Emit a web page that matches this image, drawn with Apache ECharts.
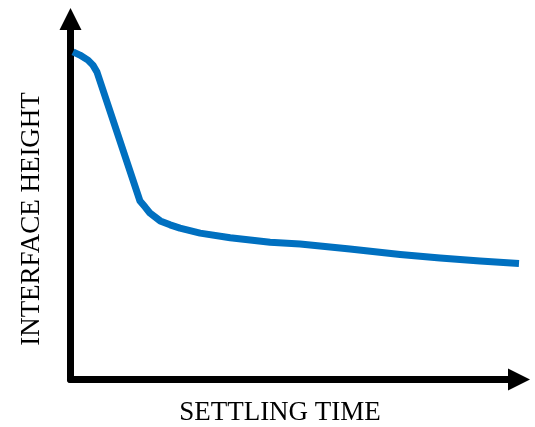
<!DOCTYPE html>
<html>
<head>
<meta charset="utf-8">
<script src="https://cdn.jsdelivr.net/npm/echarts@6/dist/echarts.min.js"></script>
<style>html,body{margin:0;padding:0;background:#fff;}#c{width:535px;height:427px;}</style>
</head>
<body>
<div id="c"></div>
<script>
// Settling time (x, relative units) and interface height (y, relative units)
var settlingTime = [0.56, 2.1, 3.9, 5.0, 5.9, 15.5, 16.6, 17.7, 20.0, 22.2, 24.4, 28.9, 35.6, 44.5, 51.2, 62.3, 73.5, 82.4, 91.3, 100];
var interfaceHeight = [90.9, 90.0, 88.6, 87.2, 85.3, 49.5, 47.9, 46.2, 44.0, 42.9, 42.0, 40.6, 39.3, 38.1, 37.6, 36.2, 34.7, 33.7, 32.9, 32.2];
var xTitle = 'SETTLING TIME';
var yTitle = 'INTERFACE HEIGHT';

var data = settlingTime.map(function (x, i) { return [x, interfaceHeight[i]]; });
var tri = 'path://M5,0 L10,10 L0,10 Z';
var serif = '"Liberation Serif", "DejaVu Serif", serif';

var chart = echarts.init(document.getElementById('c'));
chart.setOption({
  animation: false,
  backgroundColor: '#ffffff',
  grid: { left: 70.5, right: 16, top: 19, bottom: 47.5, containLabel: false },
  xAxis: {
    type: 'value', min: 0, max: 100,
    axisLine: { show: true, onZero: false, symbol: ['none', tri], symbolSize: [23, 22],
      lineStyle: { color: '#000', width: 7 } },
    axisTick: { show: false }, axisLabel: { show: false }, splitLine: { show: false }
  },
  yAxis: {
    type: 'value', min: 0, max: 100,
    axisLine: { show: true, onZero: false, symbol: ['none', tri], symbolSize: [22, 22],
      lineStyle: { color: '#000', width: 7 } },
    axisTick: { show: false }, axisLabel: { show: false }, splitLine: { show: false }
  },
  graphic: [
    { type: 'text', x: 280, y: 413, style: { text: xTitle, fontFamily: serif, fontSize: 27, fill: '#000', textAlign: 'center', textVerticalAlign: 'middle' } },
    { type: 'text', x: 32, y: 219, rotation: Math.PI / 2, style: { text: yTitle, fontFamily: serif, fontSize: 27, fill: '#000', textAlign: 'center', textVerticalAlign: 'middle' } }
  ],
  series: [{
    type: 'line', data: data, symbol: 'none', clip: false, smooth: false,
    lineStyle: { color: '#0070C0', width: 7, cap: 'butt', join: 'round' }
  }]
});
</script>
</body>
</html>
